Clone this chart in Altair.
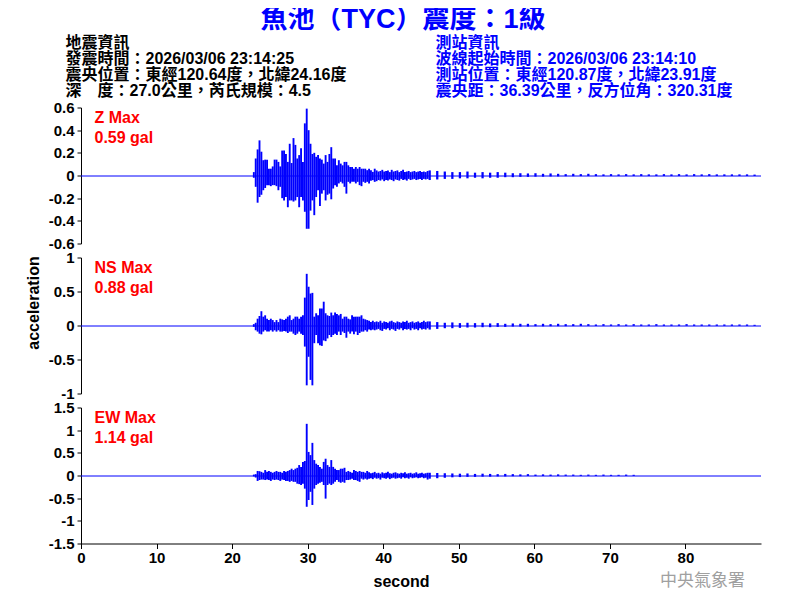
import altair as alt
import pandas as pd

# ---------------- data ----------------
# envelope of each trace: max / min per 0.25 s bin from 22.75 s to 46 s
STRONG_START = 22.75
STRONG_STEP = 0.25
# then max / min per 1 s bin from 46 s to 90 s
TAIL_START = 46.0
TAIL_STEP = 1.0

z_hi = [0.03, 0.15, 0.23, 0.31, 0.21, 0.135, 0.14, 0.14, 0.06, 0.06,
        0.08, 0.14, 0.14, 0.12, 0.08, 0.22, 0.22, 0.19, 0.12, 0.28,
        0.11, 0.33, 0.27, 0.15, 0.18, 0.24, 0.12, 0.46, 0.59, 0.40,
        0.28, 0.19, 0.20, 0.165, 0.18, 0.15, 0.14, 0.105, 0.18, 0.12,
        0.19, 0.25, 0.15, 0.15, 0.09, 0.135, 0.105, 0.09, 0.12, 0.12,
        0.09, 0.075, 0.075, 0.06, 0.075, 0.06, 0.075, 0.06, 0.06, 0.06,
        0.047, 0.06, 0.047, 0.032, 0.06, 0.045, 0.035, 0.04, 0.05, 0.035,
        0.04, 0.045, 0.03, 0.05, 0.035, 0.04, 0.045, 0.03, 0.04, 0.05,
        0.03, 0.035, 0.04, 0.03, 0.035, 0.04, 0.03, 0.035, 0.04, 0.03,
        0.035, 0.03, 0.04]
z_lo = [-0.02, -0.10, -0.24, -0.19, -0.17, -0.13, -0.11, -0.085, -0.085, -0.094,
        -0.085, -0.085, -0.094, -0.13, -0.10, -0.20, -0.22, -0.19, -0.28, -0.22,
        -0.22, -0.23, -0.22, -0.19, -0.28, -0.19, -0.22, -0.32, -0.47, -0.47,
        -0.31, -0.22, -0.35, -0.19, -0.13, -0.27, -0.16, -0.13, -0.22, -0.17,
        -0.16, -0.21, -0.115, -0.085, -0.10, -0.07, -0.056, -0.07, -0.10, -0.16,
        -0.056, -0.07, -0.056, -0.056, -0.07, -0.056, -0.085, -0.094, -0.056, -0.065,
        -0.056, -0.07, -0.047, -0.041, -0.056, -0.05, -0.04, -0.045, -0.035, -0.05,
        -0.04, -0.045, -0.035, -0.04, -0.05, -0.035, -0.04, -0.045, -0.03, -0.04,
        -0.035, -0.045, -0.03, -0.04, -0.035, -0.03, -0.04, -0.035, -0.03, -0.04,
        -0.03, -0.035, -0.03]
z_tail_hi = [0.045, 0.04, 0.035, 0.03, 0.03, 0.035, 0.025, 0.03, 0.025, 0.03,
             0.025, 0.02, 0.02, 0.018, 0.02, 0.015, 0.018, 0.015, 0.012, 0.015,
             0.012, 0.015, 0.012, 0.01, 0.012, 0.01, 0.012, 0.01, 0.012, 0.01,
             0.01, 0.012, 0.01, 0.012, 0.01, 0.012, 0.01, 0.012, 0.01, 0.01,
             0.01, 0.01, 0.01, 0.008]
z_tail_lo = [-0.04, -0.035, -0.03, -0.03, -0.025, -0.025, -0.02, -0.025, -0.02, -0.02,
             -0.015, -0.015, -0.012, -0.012, -0.01, -0.01, -0.008, -0.008, -0.006, -0.006,
             -0.005, -0.005, -0.005, -0.004, -0.004, -0.004, -0.004, -0.004, -0.004, -0.004,
             -0.004, -0.004, -0.004, -0.004, -0.004, -0.004, -0.004, -0.004, -0.004, -0.004,
             -0.004, -0.004, -0.004, -0.004]

ns_hi = [0.02, 0.04, 0.10, 0.14, 0.21, 0.13, 0.15, 0.10, 0.08, 0.10,
         0.08, 0.05, 0.08, 0.05, 0.10, 0.09, 0.08, 0.10, 0.13, 0.15,
         0.08, 0.10, 0.13, 0.13, 0.10, 0.13, 0.15, 0.41, 0.76, 0.57,
         0.47, 0.48, 0.13, 0.18, 0.15, 0.25, 0.25, 0.35, 0.18, 0.15,
         0.14, 0.19, 0.15, 0.19, 0.17, 0.15, 0.17, 0.10, 0.13, 0.13,
         0.10, 0.09, 0.15, 0.13, 0.13, 0.13, 0.13, 0.15, 0.10, 0.09,
         0.08, 0.07, 0.05, 0.07, 0.05, 0.06, 0.05, 0.07, 0.04, 0.06,
         0.05, 0.04, 0.06, 0.07, 0.05, 0.04, 0.06, 0.05, 0.04, 0.06,
         0.05, 0.07, 0.04, 0.05, 0.06, 0.04, 0.05, 0.06, 0.04, 0.05,
         0.07, 0.05, 0.06]
ns_lo = [-0.02, -0.07, -0.09, -0.12, -0.13, -0.09, -0.07, -0.09, -0.09, -0.07,
         -0.09, -0.07, -0.09, -0.07, -0.09, -0.09, -0.08, -0.09, -0.11, -0.09,
         -0.09, -0.12, -0.14, -0.12, -0.09, -0.12, -0.14, -0.31, -0.88, -0.46,
         -0.80, -0.88, -0.26, -0.14, -0.26, -0.29, -0.30, -0.22, -0.23, -0.19,
         -0.14, -0.17, -0.14, -0.12, -0.14, -0.09, -0.14, -0.09, -0.11, -0.18,
         -0.09, -0.12, -0.09, -0.13, -0.09, -0.14, -0.11, -0.09, -0.09, -0.07,
         -0.09, -0.06, -0.07, -0.06, -0.07, -0.06, -0.05, -0.07, -0.08, -0.05,
         -0.06, -0.04, -0.07, -0.05, -0.06, -0.08, -0.05, -0.06, -0.04, -0.07,
         -0.05, -0.06, -0.05, -0.07, -0.04, -0.06, -0.05, -0.07, -0.04, -0.06,
         -0.05, -0.06, -0.04]
ns_tail_hi = [0.06, 0.05, 0.04, 0.045, 0.035, 0.04, 0.035, 0.04, 0.03, 0.035,
              0.025, 0.03, 0.025, 0.025, 0.02, 0.025, 0.02, 0.025, 0.02, 0.02,
              0.025, 0.02, 0.015, 0.02, 0.015, 0.02, 0.015, 0.02, 0.015, 0.015,
              0.02, 0.015, 0.015, 0.015, 0.02, 0.015, 0.015, 0.015, 0.015, 0.015,
              0.015, 0.015, 0.015, 0.01]
ns_tail_lo = [-0.06, -0.05, -0.04, -0.04, -0.035, -0.03, -0.03, -0.025, -0.025, -0.02,
              -0.02, -0.015, -0.015, -0.015, -0.01, -0.012, -0.01, -0.01, -0.01, -0.008,
              -0.006, -0.006, -0.006, -0.005, -0.005, -0.005, -0.005, -0.005, -0.005, -0.005,
              -0.005, -0.005, -0.005, -0.005, -0.005, -0.005, -0.005, -0.005, -0.005, -0.005,
              -0.005, -0.005, -0.005, -0.005]

ew_hi = [0.02, 0.03, 0.10, 0.095, 0.08, 0.06, 0.12, 0.08, 0.10, 0.08,
         0.06, 0.08, 0.10, 0.08, 0.08, 0.06, 0.10, 0.08, 0.10, 0.12,
         0.15, 0.12, 0.15, 0.17, 0.23, 0.19, 0.30, 0.32, 1.14, 0.52,
         0.45, 0.72, 0.34, 0.26, 0.23, 0.19, 0.15, 0.30, 0.37, 0.23,
         0.19, 0.34, 0.19, 0.15, 0.12, 0.12, 0.15, 0.15, 0.17, 0.08,
         0.10, 0.08, 0.06, 0.12, 0.10, 0.08, 0.10, 0.08, 0.08, 0.06,
         0.10, 0.07, 0.05, 0.06, 0.08, 0.05, 0.06, 0.04, 0.07, 0.05,
         0.06, 0.08, 0.05, 0.04, 0.06, 0.07, 0.05, 0.04, 0.06, 0.05,
         0.07, 0.04, 0.05, 0.06, 0.04, 0.05, 0.07, 0.04, 0.05, 0.06,
         0.04, 0.05, 0.06]
ew_lo = [-0.02, -0.045, -0.12, -0.10, -0.09, -0.09, -0.10, -0.09, -0.10, -0.12,
         -0.09, -0.10, -0.09, -0.10, -0.12, -0.09, -0.10, -0.12, -0.12, -0.14,
         -0.12, -0.14, -0.14, -0.18, -0.19, -0.21, -0.18, -0.29, -0.69, -0.54,
         -0.36, -0.65, -0.29, -0.21, -0.18, -0.16, -0.14, -0.21, -0.51, -0.21,
         -0.18, -0.21, -0.18, -0.14, -0.10, -0.14, -0.16, -0.14, -0.16, -0.10,
         -0.10, -0.09, -0.07, -0.10, -0.10, -0.12, -0.14, -0.07, -0.09, -0.07,
         -0.09, -0.07, -0.06, -0.08, -0.05, -0.07, -0.06, -0.09, -0.05, -0.06,
         -0.07, -0.05, -0.08, -0.06, -0.05, -0.07, -0.06, -0.05, -0.07, -0.04,
         -0.06, -0.05, -0.07, -0.04, -0.06, -0.05, -0.04, -0.06, -0.05, -0.04,
         -0.06, -0.05, -0.09]
ew_tail_hi = [0.06, 0.055, 0.05, 0.045, 0.04, 0.045, 0.035, 0.04, 0.035, 0.03,
              0.035, 0.03, 0.025, 0.03, 0.02, 0.025, 0.02, 0.025, 0.02, 0.02,
              0.015, 0.02, 0.015, 0.02, 0.015, 0.015, 0.02, 0.015, 0, 0,
              0, 0, 0, 0, 0, 0, 0, 0, 0, 0,
              0, 0, 0, 0]
ew_tail_lo = [-0.07, -0.06, -0.05, -0.04, -0.035, -0.03, -0.03, -0.025, -0.025, -0.02,
              -0.02, -0.015, -0.015, -0.01, -0.01, -0.01, -0.01, -0.01, -0.008, -0.008,
              -0.008, -0.008, -0.008, -0.008, -0.008, -0.008, -0.008, -0.008, 0, 0,
              0, 0, 0, 0, 0, 0, 0, 0, 0, 0,
              0, 0, 0, 0]

for arr in (z_hi, z_lo, ns_hi, ns_lo, ew_hi, ew_lo):
    assert len(arr) == 93, len(arr)
for arr in (z_tail_hi, z_tail_lo, ns_tail_hi, ns_tail_lo, ew_tail_hi, ew_tail_lo):
    assert len(arr) == 44, len(arr)

x_ticks = [0, 10, 20, 30, 40, 50, 60, 70, 80]
z_ticks = [-0.6, -0.4, -0.2, 0, 0.2, 0.4, 0.6]
ns_ticks = [-1, -0.5, 0, 0.5, 1]
ew_ticks = [-1.5, -1, -0.5, 0, 0.5, 1, 1.5]

title_text = "魚池（TYC）震度：1級"
left_info = ["地震資訊",
             "發震時間：2026/03/06 23:14:25",
             "震央位置：東經120.64度，北緯24.16度",
             "深　度：27.0公里，芮氏規模：4.5"]
right_info = ["測站資訊",
              "波線起始時間：2026/03/06 23:14:10",
              "測站位置：東經120.87度，北緯23.91度",
              "震央距：36.39公里，反方位角：320.31度"]
comp_labels = ["Z Max", "NS Max", "EW Max"]
max_labels = ["0.59 gal", "0.88 gal", "1.14 gal"]
agency = "中央氣象署"

# ---------------- chart ----------------
BLUE = "#0000ff"
RED = "#ff0000"
FONT = "Liberation Sans, Noto Sans CJK TC"
W, H = 680, 136
ONE = pd.DataFrame({"k": [0]})


def bins(hi, lo, start, step, frac):
    t0 = [start + step * i for i in range(len(hi))]
    return pd.DataFrame({"t0": t0, "t1": [t + step * frac for t in t0],
                         "hi": hi, "lo": lo})


def txt(s, x, y, color="black", size=16, align="left", weight="bold"):
    return alt.Chart(ONE).mark_text(
        text=s, font=FONT, fontSize=size, fontWeight=weight, color=color,
        align=align, baseline="middle"
    ).encode(x=alt.value(x), y=alt.value(y))


def panel(hi, lo, thi, tlo, ticks, idx, bottom=False, ytitle=False, top=False):
    xs = alt.Scale(domain=[0, 90], nice=False, zero=False)
    ys = alt.Scale(domain=[ticks[0], ticks[-1]], nice=False, zero=False)
    if bottom:
        xaxis = alt.Axis(values=x_ticks, title="second", grid=False, tickSize=5,
                         labelPadding=2, labelFlush=False, labelOverlap=False,
                         titleX=320, titleY=38, titleBaseline="middle")
    else:
        xaxis = None
    if ytitle:
        yaxis = alt.Axis(values=ticks, labelExpr="'' + datum.value", grid=False,
                         tickSize=4, labelPadding=3, labelOverlap=False,
                         title="acceleration",
                         titleX=-48, titleY=45, titleBaseline="middle")
    else:
        yaxis = alt.Axis(values=ticks, labelExpr="'' + datum.value", grid=False,
                         tickSize=4, labelPadding=3, labelOverlap=False, title=None)

    def env(df):
        return alt.Chart(df).mark_rect(color=BLUE).encode(
            x=alt.X("t0:Q", scale=xs, axis=xaxis),
            x2="t1:Q",
            y=alt.Y("hi:Q", scale=ys, axis=yaxis),
            y2="lo:Q",
        )

    base = alt.Chart(ONE).mark_rule(color=BLUE, strokeWidth=1, yOffset=0.5).encode(
        y=alt.Y(datum=0, scale=ys, axis=yaxis), x=alt.value(0), x2=alt.value(W))

    layers = [env(bins(hi, lo, STRONG_START, STRONG_STEP, 1.0)),
              env(bins(thi, tlo, TAIL_START, TAIL_STEP, 0.3)),
              base,
              txt(comp_labels[idx], 13.5, 10.5, RED),
              txt(max_labels[idx], 13.5, 30, RED)]
    if top:
        layers.append(txt(title_text, 322, -88, BLUE, size=27, align="center"))
        for i, s in enumerate(left_info):
            layers.append(txt(s, -15.5, -64.3 + 16 * i, "black"))
        for i, s in enumerate(right_info):
            layers.append(txt(s, 354.5, -64.3 + 16 * i, BLUE))
    if bottom:
        layers.append(txt(agency, 621.5, 173.5, "#a0a0a0", size=17,
                          align="center", weight="normal"))
    return alt.layer(*layers).properties(width=W, height=H)


p1 = panel(z_hi, z_lo, z_tail_hi, z_tail_lo, z_ticks, 0, top=True)
p2 = panel(ns_hi, ns_lo, ns_tail_hi, ns_tail_lo, ns_ticks, 1, ytitle=True)
p3 = panel(ew_hi, ew_lo, ew_tail_hi, ew_tail_lo, ew_ticks, 2, bottom=True)

chart = alt.vconcat(p1, p2, p3, spacing=14, bounds="flush").properties(
    padding={"left": 16, "top": -3.5, "right": 5, "bottom": 0},
    background="white",
).configure_axis(
    labelFont="Liberation Sans", labelFontSize=15, labelFontWeight="bold",
    labelColor="black", titleFont="Liberation Sans", titleFontSize=16,
    titleFontWeight="bold", titleColor="black", domainColor="black",
    tickColor="black", domainWidth=1, tickWidth=1, labelOverlap=False,
).configure_view(stroke="transparent")

chart.save("out.html", embed_options={"renderer": "svg", "actions": False})
